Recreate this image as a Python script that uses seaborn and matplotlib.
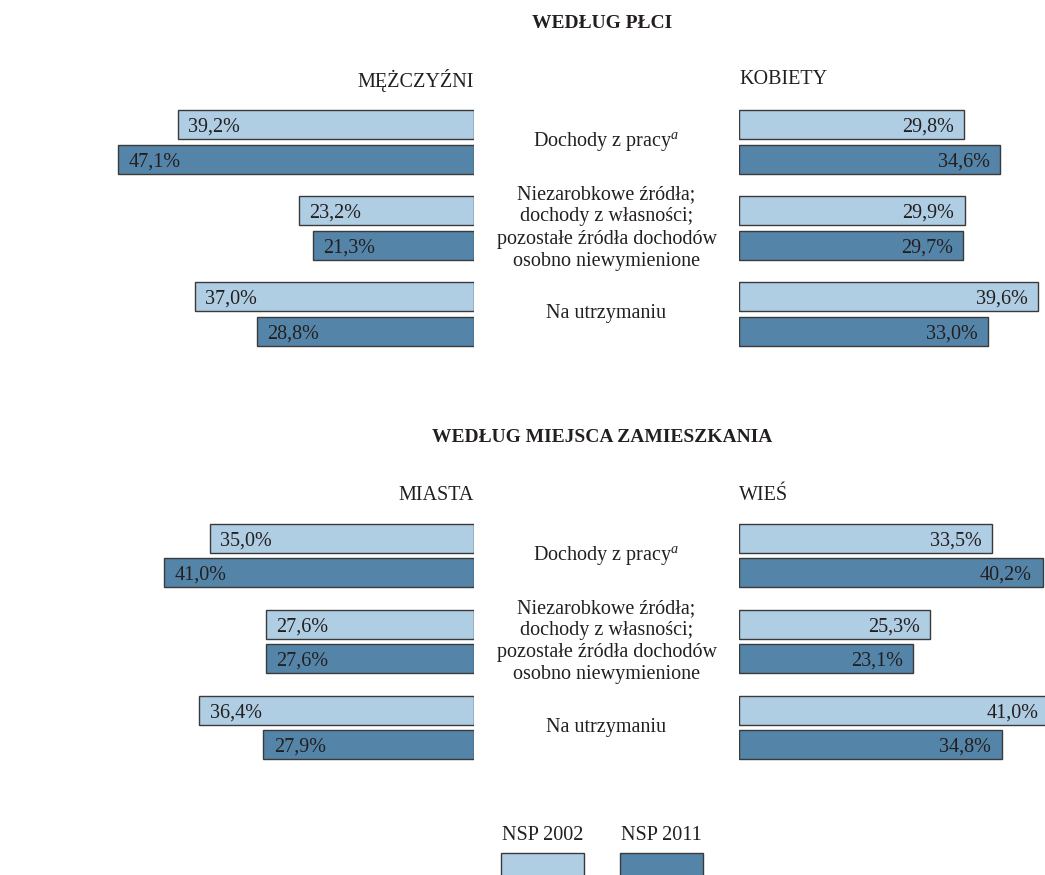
import numpy as np
import pandas as pd
import matplotlib
matplotlib.use("Agg")
import matplotlib.pyplot as plt
import matplotlib.transforms as mtransforms
from matplotlib.patches import Rectangle
import seaborn as sns

# --- data ---
kat_keys = ["praca", "niezarobkowe", "utrzymanie"]
kat_labels = [
    "Dochody z pracy$^{a}$",
    "Niezarobkowe źródła;\ndochody z własności;\npozostałe źródła dochodów\nosobno niewymienione",
    "Na utrzymaniu",
]
lata = ["NSP 2002", "NSP 2011"]

mezczyzni_2002 = [39.2, 23.2, 37.0]
mezczyzni_2011 = [47.1, 21.3, 28.8]
kobiety_2002 = [29.8, 29.9, 39.6]
kobiety_2011 = [34.6, 29.7, 33.0]

miasta_2002 = [35.0, 27.6, 36.4]
miasta_2011 = [41.0, 27.6, 27.9]
wies_2002 = [33.5, 25.3, 41.0]
wies_2011 = [40.2, 23.1, 34.8]

# --- style ---
C_LIGHT = "#AFCDE3"
C_DARK = "#5485A9"
C_EDGE = "#3a3a3a"
C_TEXT = "#231f20"
FS = 14.5

sns.set_style("white")
plt.rcParams["font.family"] = ["Liberation Serif", "DejaVu Serif"]
plt.rcParams["mathtext.fontset"] = "custom"
plt.rcParams["mathtext.rm"] = "Liberation Serif"
plt.rcParams["mathtext.it"] = "Liberation Serif:italic"
plt.rcParams["text.color"] = C_TEXT

W, H = 1045, 875
PX_PER_PCT = 7.55
X_MID = 474, 739  # inner edges of left / right bars in px


def make_df(v2002, v2011):
    return pd.DataFrame({
        "kat": kat_keys * 2,
        "rok": [lata[0]] * 3 + [lata[1]] * 3,
        "val": v2002 + v2011,
    })


def draw_side(ax, v2002, v2011, side):
    sns.barplot(data=make_df(v2002, v2011), y="kat", x="val", hue="rok",
                order=kat_keys, hue_order=lata, orient="h",
                palette=[C_LIGHT, C_DARK], saturation=1,
                width=0.8, gap=0.15, edgecolor=C_EDGE, linewidth=1,
                legend=False, ax=ax)
    if side == "left":
        ax.set_xlim(X_MID[0] / PX_PER_PCT, 0)
    else:
        ax.set_xlim(0, (W - X_MID[1]) / PX_PER_PCT)
    ax.set_ylim(2.5, -0.5)
    ax.axis("off")
    for cont in ax.containers:
        for bar in cont:
            w = bar.get_width()
            yc = bar.get_y() + bar.get_height() / 2
            txt = f"{w:.1f}".replace(".", ",") + "%"
            if side == "left":
                ax.annotate(txt, (w, yc), xytext=(7.5, 0), textcoords="offset points",
                            ha="left", va="center_baseline", fontsize=FS, annotation_clip=False)
            else:
                ax.annotate(txt, (w, yc), xytext=(-7.5, 0), textcoords="offset points",
                            ha="right", va="center_baseline", fontsize=FS, annotation_clip=False)


fig = plt.figure(figsize=(W / 100, H / 100), dpi=100)

panels = [
    # top px of axes, title, title y, left name, right name, name y, left data, right data
    (99, "WEDŁUG PŁCI", 24, "MĘŻCZYŹNI", "KOBIETY", 80,
     (mezczyzni_2002, mezczyzni_2011), (kobiety_2002, kobiety_2011)),
    (512.5, "WEDŁUG MIEJSCA ZAMIESZKANIA", 438, "MIASTA", "WIEŚ", 496,
     (miasta_2002, miasta_2011), (wies_2002, wies_2011)),
]

for top, title, title_y, lname, rname, name_y, ldata, rdata in panels:
    h = 258
    bottom = 1 - (top + h) / H
    ax_l = fig.add_axes([0, bottom, X_MID[0] / W, h / H])
    ax_r = fig.add_axes([X_MID[1] / W, bottom, (W - X_MID[1]) / W, h / H])
    draw_side(ax_l, *ldata, "left")
    draw_side(ax_r, *rdata, "right")

    trans = mtransforms.blended_transform_factory(fig.transFigure, ax_l.transData)
    for i, lab in enumerate(kat_labels):
        ax_l.text(0.5804, i, lab, transform=trans, ha="center", va="center",
                  multialignment="center", linespacing=1.22, fontsize=FS)

    fig.text(0.576, 1 - title_y / H, title, ha="center", va="center",
             fontsize=FS - 0.5, fontweight="bold")
    fig.text(X_MID[0] / W, 1 - name_y / H, lname, ha="right", va="center", fontsize=FS)
    fig.text(X_MID[1] / W, 1 - name_y / H, rname, ha="left", va="center", fontsize=FS)

# legend
for lab, col, x0, x1 in [(lata[0], C_LIGHT, 501, 584), (lata[1], C_DARK, 620, 703)]:
    fig.text((x0 + x1) / 2 / W, 1 - 835 / H, lab, ha="center", va="center", fontsize=FS)
    fig.add_artist(Rectangle((x0 / W, 1 - 885 / H), (x1 - x0) / W, 32 / H,
                             transform=fig.transFigure, facecolor=col,
                             edgecolor=C_EDGE, linewidth=1))

fig.savefig("out.png", dpi=100)
